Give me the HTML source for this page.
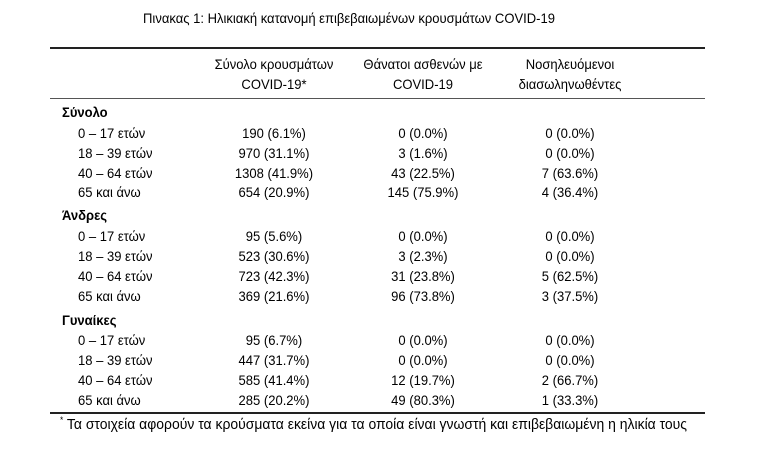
<!DOCTYPE html><html><head><meta charset="utf-8"><style>
body{margin:0;width:757px;height:463px;background:#fff;position:relative;overflow:hidden;font-family:"Liberation Sans",sans-serif;color:#000;font-size:14px}
.t{position:absolute;white-space:nowrap;transform:translate(-50%,-50%) scaleX(0.93)}
.l{position:absolute;white-space:nowrap;transform-origin:0 50%;transform:translateY(-50%) scaleX(0.93)}
.b{font-weight:bold}
.hr{position:absolute;left:50px;width:655px;background:#222}
.c1{left:274px}.c2{left:423px}.c3{left:570px}
</style></head><body>
<div class="t" style="left:349px;top:18px">Πινακας 1: Ηλικιακή κατανομή επιβεβαιωμένων κρουσμάτων COVID-19</div>
<div class="hr" style="top:47px;height:2px"></div>
<div class="t c1" style="top:64px">Σύνολο κρουσμάτων</div>
<div class="t c1" style="top:84px">COVID-19*</div>
<div class="t c2" style="top:64px">Θάνατοι ασθενών με</div>
<div class="t c2" style="top:84px">COVID-19</div>
<div class="t c3" style="top:64px">Νοσηλευόμενοι</div>
<div class="t c3" style="top:84px">διασωληνωθέντες</div>
<div class="hr" style="top:98px;height:1px;background:#555"></div>

<div class="l b" style="left:62px;top:112px">Σύνολο</div>
<div class="l" style="left:78px;top:133px">0 – 17 ετών</div><div class="t c1" style="top:133px">190 (6.1%)</div><div class="t c2" style="top:133px">0 (0.0%)</div><div class="t c3" style="top:133px">0 (0.0%)</div>
<div class="l" style="left:78px;top:153px">18 – 39 ετών</div><div class="t c1" style="top:153px">970 (31.1%)</div><div class="t c2" style="top:153px">3 (1.6%)</div><div class="t c3" style="top:153px">0 (0.0%)</div>
<div class="l" style="left:78px;top:173px">40 – 64 ετών</div><div class="t c1" style="top:173px">1308 (41.9%)</div><div class="t c2" style="top:173px">43 (22.5%)</div><div class="t c3" style="top:173px">7 (63.6%)</div>
<div class="l" style="left:78px;top:192px">65 και άνω</div><div class="t c1" style="top:192px">654 (20.9%)</div><div class="t c2" style="top:192px">145 (75.9%)</div><div class="t c3" style="top:192px">4 (36.4%)</div>

<div class="l b" style="left:62px;top:215px">Άνδρες</div>
<div class="l" style="left:78px;top:236px">0 – 17 ετών</div><div class="t c1" style="top:236px">95 (5.6%)</div><div class="t c2" style="top:236px">0 (0.0%)</div><div class="t c3" style="top:236px">0 (0.0%)</div>
<div class="l" style="left:78px;top:256px">18 – 39 ετών</div><div class="t c1" style="top:256px">523 (30.6%)</div><div class="t c2" style="top:256px">3 (2.3%)</div><div class="t c3" style="top:256px">0 (0.0%)</div>
<div class="l" style="left:78px;top:276px">40 – 64 ετών</div><div class="t c1" style="top:276px">723 (42.3%)</div><div class="t c2" style="top:276px">31 (23.8%)</div><div class="t c3" style="top:276px">5 (62.5%)</div>
<div class="l" style="left:78px;top:296px">65 και άνω</div><div class="t c1" style="top:296px">369 (21.6%)</div><div class="t c2" style="top:296px">96 (73.8%)</div><div class="t c3" style="top:296px">3 (37.5%)</div>

<div class="l b" style="left:62px;top:320px">Γυναίκες</div>
<div class="l" style="left:78px;top:340px">0 – 17 ετών</div><div class="t c1" style="top:340px">95 (6.7%)</div><div class="t c2" style="top:340px">0 (0.0%)</div><div class="t c3" style="top:340px">0 (0.0%)</div>
<div class="l" style="left:78px;top:360px">18 – 39 ετών</div><div class="t c1" style="top:360px">447 (31.7%)</div><div class="t c2" style="top:360px">0 (0.0%)</div><div class="t c3" style="top:360px">0 (0.0%)</div>
<div class="l" style="left:78px;top:380px">40 – 64 ετών</div><div class="t c1" style="top:380px">585 (41.4%)</div><div class="t c2" style="top:380px">12 (19.7%)</div><div class="t c3" style="top:380px">2 (66.7%)</div>
<div class="l" style="left:78px;top:400px">65 και άνω</div><div class="t c1" style="top:400px">285 (20.2%)</div><div class="t c2" style="top:400px">49 (80.3%)</div><div class="t c3" style="top:400px">1 (33.3%)</div>
<div class="hr" style="top:412px;height:2px"></div>
<div class="l" style="left:60px;top:424px;font-size:15px"><sup style="font-size:9px">*</sup> Τα στοιχεία αφορούν τα κρούσματα εκείνα για τα οποία είναι γνωστή και επιβεβαιωμένη η ηλικία τους</div>
</body></html>
